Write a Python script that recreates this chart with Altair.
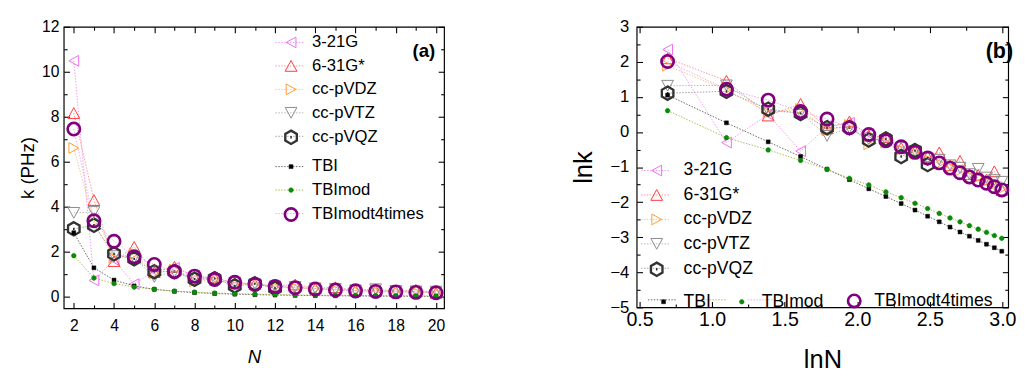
import json
import altair as alt
import pandas as pd
import numpy as np

# ---------------- data ----------------
N_full = list(range(2, 21))
N_321g = list(range(2, 10))
N_qz = list(range(2, 13))

k_321g = [10.49, 0.74, 1.65, 0.58, 1.16, 1.30, 0.95, 0.82]
k_631g = [8.17, 4.31, 1.60, 2.23, 1.11, 1.35, 0.905, 0.861, 0.638, 0.577, 0.497, 0.560,
          0.387, 0.440, 0.301, 0.295, 0.259, 0.326, 0.192]
k_dz = [6.62, 3.32, 1.73, 1.92, 1.05, 1.22, 0.705, 0.741, 0.607, 0.549, 0.458, 0.407,
        0.368, 0.333, 0.287, 0.273, 0.247, 0.223, 0.198]
k_tz = [3.74, 3.78, 1.82, 1.73, 0.896, 1.13, 0.819, 0.779, 0.638, 0.577, 0.472, 0.454,
        0.387, 0.361, 0.301, 0.350, 0.273, 0.254, 0.242]
k_qz = [3.03, 3.19, 1.92, 1.70, 1.13, 1.13, 0.795, 0.819, 0.497, 0.589, 0.395]
k_tbi = [2.86, 1.30, 0.756, 0.497, 0.346, 0.257, 0.198, 0.159, 0.130, 0.108, 0.0907,
         0.0773, 0.0665, 0.0578, 0.0513, 0.0455, 0.0408, 0.0369, 0.0334]
k_tbimod = [1.84, 0.852, 0.600, 0.445, 0.346, 0.267, 0.221, 0.181, 0.154, 0.131, 0.113,
            0.0983, 0.0863, 0.0773, 0.0693, 0.0627, 0.0573, 0.0523, 0.0483]
k_t4 = [7.46, 3.39, 2.48, 1.79, 1.45, 1.13, 0.932, 0.779, 0.657, 0.560, 0.477, 0.415,
        0.357, 0.313, 0.278, 0.254, 0.232, 0.210, 0.192]

dft_names = ["3-21G", "6-31G*", "cc-pVDZ", "cc-pVTZ", "cc-pVQZ"]
tb_names = ["TBI", "TBImod", "TBImodt4times"]

# axis tick values
left_x_major = list(range(2, 21, 2))
left_x_minor = list(range(3, 20, 2))
left_y_major = list(range(0, 13, 2))
left_y_minor = list(range(1, 12, 2))
right_x_major = [0.5, 1.0, 1.5, 2.0, 2.5, 3.0]
right_x_minor = [0.75, 1.25, 1.75, 2.25, 2.75]
right_y_major = [-5, -4, -3, -2, -1, 0, 1, 2, 3]
right_y_minor = [-4.5, -3.5, -2.5, -1.5, -0.5, 0.5, 1.5, 2.5]

# ---------------- marker shapes ----------------
# every marker is drawn at symbol size 900 (unit = 15 px), so the shape path
# itself carries the marker's pixel size; legends then line up with their lines.
SYM = 900
U = 15.0


def poly(pts, extra=""):
    return "M" + "L".join(f"{x / U:.4f},{y / U:.4f}" for x, y in pts) + "Z" + extra


def circ(r):
    r = r / U
    return f"M{-r:.4f},0A{r:.4f},{r:.4f} 0 1,0 {r:.4f},0A{r:.4f},{r:.4f} 0 1,0 {-r:.4f},0Z"


DOT = f"M{-0.8 / U:.4f},0L{0.8 / U:.4f},0"
shape_321g = poly([(-5, 0), (5, -5.5), (5, 5.5)])
shape_631g = poly([(0, -5.5), (6, 5.5), (-6, 5.5)])
shape_dz = poly([(5, 0), (-5, -5.5), (-5, 5.5)])
shape_tz = poly([(0, 5.5), (6, -5.5), (-6, -5.5)])
shape_qz = poly([(0, -6.8), (5.9, -3.4), (5.9, 3.4), (0, 6.8), (-5.9, 3.4), (-5.9, -3.4)], DOT)
shape_tbi = poly([(-2, -2), (2, -2), (2, 2), (-2, 2)])
shape_tbimod = circ(2.4)
shape_t4 = circ(6.3)

dft_colors = ["#ee6fee", "#ff3838", "#ff9a33", "#8a8a8a", "#333333"]
dft_line_colors = ["#f48ef4", "#ff8a8a", "#ffbb77", "#b0b0b0", "#999999"]
dft_shapes = [shape_321g, shape_631g, shape_dz, shape_tz, shape_qz]
dft_sw = [1.0, 1.0, 1.0, 1.0, 2.4]

tb_colors = ["#000000", "#0a8a0a", "#800080"]
tb_fill = ["#000000", "#0a8a0a", "transparent"]
tb_line_colors = ["#555555", "#a6b33c", "#dca6e6"]
tb_shapes = [shape_tbi, shape_tbimod, shape_t4]
tb_sw = [0.5, 0.5, 2.7]

# invisible placeholder label text (en spaces) for the legend line-segment layer
EN = "\u2002"
dft_blank = [EN * 5, EN * 6, EN * 8, EN * 8, EN * 8]
tb_blank = [EN * 3, EN * 7, EN * 13]


def build_df(names, Ns, ks):
    rows = []
    for name, n_list, k_list in zip(names, Ns, ks):
        for n, k in zip(n_list, k_list):
            rows.append({"N": n, "k": k, "name": name,
                         "lnN": float(np.log(n)), "lnk": float(np.log(k))})
    return pd.DataFrame(rows)


df_dft = build_df(dft_names, [N_321g, N_full, N_full, N_full, N_qz],
                  [k_321g, k_631g, k_dz, k_tz, k_qz])
df_tb = build_df(tb_names, [N_full, N_full, N_full], [k_tbi, k_tbimod, k_t4])

FONT = "Liberation Sans"
MAJ = 6
MIN = 3.5
LINE_DASH = [1.5, 1.5]


def lookup_expr(names, values):
    return f"{json.dumps(values)}[indexof({json.dumps(names)}, datum.value)]"


def tick_axis(orient, values, size, **kw):
    # inward ticks: negative tick length given as an expression
    base = dict(orient=orient, values=values, ticks=True, tickSize={"expr": f"-{size}"},
                tickColor="#000000", tickWidth=1.1, domain=False, grid=False,
                labelFlush=False)
    if "labelFontSize" not in kw:
        base["labels"] = False
        base["title"] = None
    base.update(kw)
    return alt.Axis(**base)


def oscale(domain, rng):
    return alt.Scale(type="ordinal", domain=domain, range=rng)


def leg(x, y, fs, rp, lo, names, blanks=None, direction="vertical", cols=None, cp=None):
    kw = dict(orient="none", legendX=x, legendY=y, title=None, labelFontSize=fs,
              labelFont=FONT, labelColor="#000000", rowPadding={"expr": str(rp)},
              labelOffset=lo, direction=direction, padding=0, symbolSize=SYM)
    if cols is not None:
        kw["columns"] = cols
    if cp is not None:
        kw["columnPadding"] = cp
    if blanks is not None:   # dotted line segment behind the marker
        kw.update(symbolType="stroke", symbolStrokeWidth=0.9, symbolDash=LINE_DASH,
                  labelExpr=lookup_expr(names, blanks))
    return alt.Legend(**kw)


def make_panel(xf, yf, xdom, ydom, xmaj, xmin, ymaj, ymin, xfmt, yfmt, w, h,
               xtitle, ytitle, xls, yls, xts, yts, xtstyle, xlp, ylp, xtp, ytp,
               legA, legA_line, legB, legB_line, tag, tagsize, tagx, tagy):
    xs = alt.Scale(domain=xdom, nice=False, zero=False)
    ys = alt.Scale(domain=ydom, nice=False, zero=False)

    def X(axis):
        return alt.X(f"{xf}:Q", scale=xs, axis=axis)

    def Y(axis):
        return alt.Y(f"{yf}:Q", scale=ys, axis=axis)

    x_main = X(tick_axis("bottom", xmaj, MAJ, format=xfmt, labelFontSize=xls,
                         labelPadding=xlp + MAJ, labelColor="#000000", title=xtitle,
                         titleFontSize=xts, titleFontStyle=xtstyle,
                         titleFontWeight="normal", titlePadding=xtp,
                         titleColor="#000000"))
    y_main = Y(tick_axis("left", ymaj, MAJ, format=yfmt, labelFontSize=yls,
                         labelPadding=ylp + MAJ, labelColor="#000000", title=ytitle,
                         titleFontSize=yts, titleFontWeight="normal",
                         titlePadding=ytp, titleColor="#000000"))

    minor_main = alt.Chart(df_tb).mark_point(opacity=0, size=1).encode(
        x=X(tick_axis("bottom", xmin, MIN)), y=Y(tick_axis("left", ymin, MIN)))
    minor_mir = alt.Chart(df_tb).mark_point(opacity=0, size=1).encode(
        x=X(tick_axis("top", xmin, MIN)), y=Y(tick_axis("right", ymin, MIN)))

    line_a = alt.Chart(df_dft).mark_line(strokeWidth=0.9, strokeDash=LINE_DASH).encode(
        x=x_main, y=y_main,
        color=alt.Color("name:N", scale=oscale(dft_names, dft_line_colors),
                        legend=legA_line),
        order="N:Q")
    pts_a = alt.Chart(df_dft).mark_point(filled=False, opacity=1, size=SYM).encode(
        x=X(None), y=Y(None),
        stroke=alt.Stroke("name:N", scale=oscale(dft_names, dft_colors), legend=legA),
        shape=alt.Shape("name:N", scale=oscale(dft_names, dft_shapes), legend=legA),
        strokeWidth=alt.StrokeWidth("name:N", scale=oscale(dft_names, dft_sw), legend=legA))

    line_b = alt.Chart(df_tb).mark_line(strokeWidth=0.9, strokeDash=LINE_DASH).encode(
        x=X(tick_axis("top", xmaj, MAJ)), y=Y(tick_axis("right", ymaj, MAJ)),
        color=alt.Color("name:N", scale=oscale(tb_names, tb_line_colors),
                        legend=legB_line),
        order="N:Q")
    pts_b = alt.Chart(df_tb).mark_point(opacity=1, size=SYM).encode(
        x=X(None), y=Y(None),
        stroke=alt.Stroke("name:N", scale=oscale(tb_names, tb_colors), legend=legB),
        fill=alt.Fill("name:N", scale=oscale(tb_names, tb_fill), legend=legB),
        shape=alt.Shape("name:N", scale=oscale(tb_names, tb_shapes), legend=legB),
        strokeWidth=alt.StrokeWidth("name:N", scale=oscale(tb_names, tb_sw), legend=legB))

    tag_layer = alt.Chart(pd.DataFrame({"t": [tag]})).mark_text(
        font=FONT, fontSize=tagsize, fontWeight="bold", align="right",
        baseline="middle", color="#000000").encode(
        text="t:N", x=alt.value(tagx), y=alt.value(tagy))

    return alt.layer(minor_main, minor_mir, line_a, pts_a, line_b, pts_b, tag_layer
                     ).resolve_scale(
        color="independent", stroke="independent", fill="independent",
        shape="independent", strokeWidth="independent"
    ).resolve_axis(x="independent", y="independent").properties(width=w, height=h)


# legend anchors (plot-relative)
LAx, LAy = 216, 0.5
LBx, LBy = 216, 127.5
RAx, RAy = 4, 131.5
RBx, RBy = 11, 263.5

left = make_panel(
    "N", "k", [1.5, 20.4], [-0.5, 12], left_x_major, left_x_minor,
    left_y_major, left_y_minor, "d", "d", 389, 288,
    "N", "k (PHz)", 16, 16, 19, 19, "italic", 10, 5, 14, 4,
    leg(LAx, LAy, 17, -3.5, 5, dft_names),
    leg(LAx, LAy, 17, -3.5, 5, dft_names, blanks=dft_blank),
    leg(LBx, LBy, 17, -7, 5, tb_names),
    leg(LBx, LBy, 17, -7, 5, tb_names, blanks=tb_blank),
    "(a)", 19, 380, 25)

right = make_panel(
    "lnN", "lnk", [0.48, 3.04], [-5, 3], right_x_major, right_x_minor,
    right_y_major, right_y_minor, ".1f", "d", 380, 287,
    "lnN", "lnk", 20, 17, 26, 26, "normal", 3, 8, 18, 14,
    leg(RAx, RAy, 18, -3, 11, dft_names),
    leg(RAx, RAy, 18, -3, 11, dft_names, blanks=dft_blank),
    leg(RBx, RBy, 18, 4, 4, tb_names, direction="horizontal", cols=3, cp=14),
    leg(RBx, RBy, 18, 4, 4, tb_names, blanks=tb_blank, direction="horizontal",
        cols=3, cp=14),
    "(b)", 22, 385, 25)

chart = alt.hconcat(left, right, spacing=124).resolve_scale(
    color="independent", stroke="independent", fill="independent",
    shape="independent", strokeWidth="independent"
).properties(
    padding={"left": 10, "top": 5, "right": 0, "bottom": 0}
).configure(font=FONT).configure_view(stroke="#000000", strokeWidth=1.2)

chart.save("out.html", embed_options={"renderer": "svg", "actions": False})
